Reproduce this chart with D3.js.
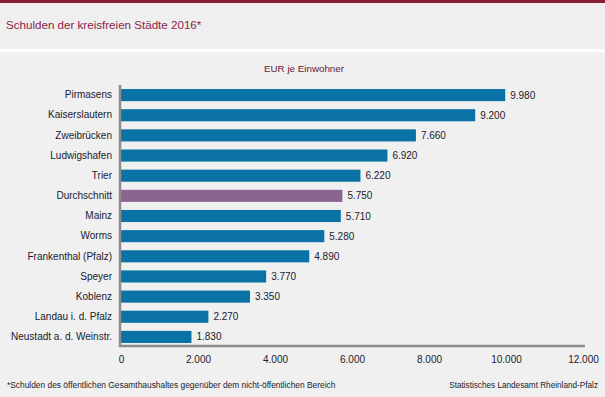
<!DOCTYPE html>
<html><head><meta charset="utf-8">
<script src="https://cdn.jsdelivr.net/npm/d3@7"></script>
<style>body{margin:0;background:#fff;}svg{display:block;font-family:"Liberation Sans",Arial,sans-serif;}</style>
</head><body>
<script>
const categories = ["Pirmasens","Kaiserslautern","Zweibrücken","Ludwigshafen","Trier","Durchschnitt","Mainz","Worms","Frankenthal (Pfalz)","Speyer","Koblenz","Landau i. d. Pfalz","Neustadt a. d. Weinstr."];
const values = [9980,9200,7660,6920,6220,5750,5710,5280,4890,3770,3350,2270,1830];
const tickValues = [0,2000,4000,6000,8000,10000,12000];
const fmt = v => d3.format(",")(v).replace(/,/g,".");

const W=605,H=397;
const svg=d3.select("body").append("svg").attr("width",W).attr("height",H);
svg.append("rect").attr("x",0).attr("y",0).attr("width",W).attr("height",H).attr("fill","#fff");
svg.append("rect").attr("x",0).attr("y",0).attr("width",W).attr("height",49).attr("fill","#eeefee");
svg.append("rect").attr("x",0).attr("y",0).attr("width",W).attr("height",3).attr("fill","#8b1d3b");
svg.append("rect").attr("x",0).attr("y",52).attr("width",W).attr("height",H-52).attr("fill","#eff0ef");
svg.append("text").attr("x",6).attr("y",29).attr("font-size",11.6).attr("fill","#8b1d4a").text("Schulden der kreisfreien Städte 2016*");
svg.append("text").attr("x",304).attr("y",72).attr("text-anchor","middle").attr("font-size",9.8).attr("fill","#6b1a35").text("EUR je Einwohner");

const x=d3.scaleLinear().domain([0,12000]).range([121,583]);
const y=d3.scaleBand().domain(categories).range([85,347]).paddingInner(0.4).paddingOuter(0.2);

svg.selectAll("rect.bar").data(categories).enter().append("rect").attr("class","bar")
 .attr("x",x(0)).attr("y",d=>y(d)).attr("height",y.bandwidth())
 .attr("width",(d,i)=>x(values[i])-x(0))
 .attr("fill",d=>d==="Durchschnitt"?"#8a658f":"#0a72a4");
svg.selectAll("text.val").data(categories).enter().append("text").attr("class","val")
 .attr("x",(d,i)=>x(values[i])+5).attr("y",d=>y(d)+y.bandwidth()/2+3.5)
 .attr("font-size",10).attr("fill","#1a1a2e").text((d,i)=>fmt(values[i]));

const yAxis=svg.append("g").attr("transform",`translate(${x(0)-1},0)`).call(d3.axisLeft(y).tickSize(0).tickPadding(8));
yAxis.select(".domain").attr("stroke","#8c8c8c").attr("stroke-width",2.5).attr("d","M0,85V347");
yAxis.selectAll("text").attr("font-size",10).attr("fill","#1a1a2e").attr("font-family","Liberation Sans, Arial, sans-serif");

const xAxis=svg.append("g").attr("transform","translate(0,346)").call(d3.axisBottom(x).tickValues(tickValues).tickSize(0).tickPadding(10).tickFormat(fmt));
xAxis.select(".domain").attr("stroke","#8c8c8c").attr("stroke-width",2.5).attr("d",`M${x(0)-2},0H${x(12000)+2}`);
xAxis.selectAll("text").attr("font-size",10).attr("fill","#1a1a2e").attr("font-family","Liberation Sans, Arial, sans-serif");

svg.append("text").attr("x",7).attr("y",388).attr("font-size",8.4).attr("fill","#1a1a2e").text("*Schulden des öffentlichen Gesamthaushaltes gegenüber dem nicht-öffentlichen Bereich");
svg.append("text").attr("x",598).attr("y",388).attr("text-anchor","end").attr("font-size",8.2).attr("fill","#1a1a2e").text("Statistisches Landesamt Rheinland-Pfalz");
</script>
</body></html>
